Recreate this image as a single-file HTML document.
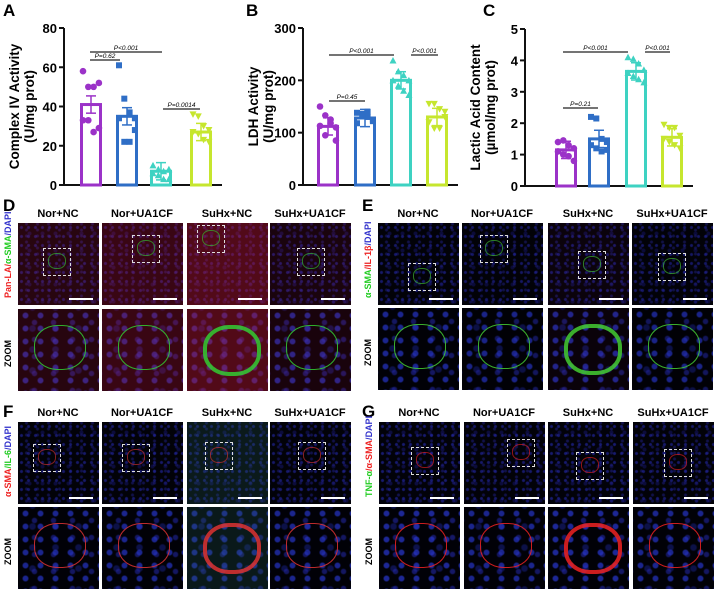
<!DOCTYPE html>
<html><head><meta charset="utf-8">
<style>
body{margin:0;background:#fff;width:720px;height:598px;position:relative;overflow:hidden;font-family:"Liberation Sans",sans-serif}
.lbl{position:absolute;font-weight:bold;font-size:17px}
.cap{position:absolute;font-size:11px;font-weight:bold;text-align:center;width:90px}
.img{position:absolute;width:81px;height:82px;background:
radial-gradient(circle,rgba(40,45,190,.6) 1px,transparent 2px) 0 0/7px 9px,
radial-gradient(circle,rgba(40,40,170,.45) 1px,transparent 2px) 3px 4px/11px 6px,
radial-gradient(circle,rgba(30,30,150,.4) 1.5px,transparent 2.5px) 5px 2px/13px 17px,
#03030a;overflow:hidden}
.z{background:
radial-gradient(circle,rgba(40,55,210,.75) 2.2px,transparent 3.6px) 0 0/15px 13px,
radial-gradient(circle,rgba(40,45,190,.55) 2px,transparent 3.4px) 7px 5px/19px 17px,
radial-gradient(circle,rgba(30,40,170,.45) 2.5px,transparent 4px) 3px 9px/23px 21px,
#020208}
.box{position:absolute;width:26px;height:26px;border:1px dashed #ddd}
.sb{position:absolute;right:6px;bottom:5px;width:24px;height:2px;background:#fff}
.vl{position:absolute;font-size:9px;transform:rotate(-90deg);transform-origin:left top;white-space:nowrap;font-weight:bold}
.ring{position:absolute;border-radius:45%}
</style></head><body>
<svg id="charts" width="720" height="200" style="position:absolute;left:0;top:0"></svg>
<div id="panels"></div>
<script>
const groups=["Nor+NC","Nor+UA1CF","SuHx+NC","SuHx+UA1CF"];
const colors=["#9b32c8","#2f6ec6","#3ed2c2","#c6e62e"];
const valsA=[41,35,7,27];
const ptsA=[[58,50,50,52,33,33,27,29],[61,44,37,34,34,22,22,28],[10,8,7,8,6,5,3,3],[36,35,30,28,27,26,23,22]];
const valsB=[112,128,200,130];
const ptsB=[[150,133,118,110,113,95,125,85],[138,136,130,125,118,132,140,122],[238,217,210,200,200,190,180,172],[155,155,145,130,120,108,108,140]];
const valsC=[1.15,1.5,3.65,1.55];
const ptsC=[[1.4,1.45,1.3,1.2,1.1,1.0,0.95,0.8],[2.2,2.15,1.5,1.4,1.3,1.2,1.1,1.15],[4.1,4.05,3.9,3.7,3.6,3.5,3.4,3.3],[1.95,1.85,1.85,1.6,1.5,1.4,1.3,1.2]];
const ticksA=[0,20,40,60,80],ticksB=[0,100,200,300],ticksC=[0,1,2,3,4,5];
const NS="http://www.w3.org/2000/svg",svg=document.getElementById('charts');
function el(t,a,p){const e=document.createElementNS(NS,t);for(const k in a)e.setAttribute(k,a[k]);(p||svg).appendChild(e);return e;}
function chart(name,ax,yTop,yBot,max,ticks,bars,vals,pts,title1,title2,letter,lx,brackets){
  const g=el('g',{});
  
  
  const y=v=>yBot-(v/max)*(yBot-yTop);
  el('line',{x1:ax,y1:yTop,x2:ax,y2:yBot,stroke:'#111','stroke-width':2},g);
  el('line',{x1:ax,y1:yBot,x2:bars[3]+32,y2:yBot,stroke:'#111','stroke-width':2},g);
  ticks.forEach(t=>{el('line',{x1:ax-5,x2:ax,y1:y(t),y2:y(t),stroke:'#111','stroke-width':2},g);
    const tx=el('text',{x:ax-7,y:y(t)+5,'text-anchor':'end','font-size':13,'font-weight':'bold'},g);tx.textContent=t;});
  const L=el('text',{x:lx,y:16,'font-size':17,'font-weight':'bold'},g);L.textContent=letter;
  const cy=(yTop+yBot)/2;
  const t1=el('text',{x:0,y:0,'font-size':13.5,'font-weight':'bold','text-anchor':'middle',transform:`translate(${ax-45},${cy}) rotate(-90)`},g);t1.textContent=title1;
  const t2=el('text',{x:0,y:0,'font-size':13.5,'font-weight':'bold','text-anchor':'middle',transform:`translate(${ax-30},${cy}) rotate(-90)`},g);t2.textContent=title2;
  vals.forEach((v,i)=>{const x=bars[i],w=22,c=colors[i];
    const b=el('rect',{x:x+1.5,y:y(v),width:w-3,height:yBot-y(v),fill:'none',stroke:c,'stroke-width':3},g);
    
    
    const e=(max*0.055);
    el('line',{x1:x+w/2,x2:x+w/2,y1:y(v+e),y2:y(v-e),stroke:c,'stroke-width':1.5},g);
    el('line',{x1:x+w/2-5,x2:x+w/2+5,y1:y(v+e),y2:y(v+e),stroke:c,'stroke-width':1.5},g);
    el('line',{x1:x+w/2-5,x2:x+w/2+5,y1:y(v-e),y2:y(v-e),stroke:c,'stroke-width':1.5},g);
    pts[i].forEach((p,j)=>{const px=x+3+(j%4)*5.3,py=y(p);
      if(i==0)el('circle',{cx:px,cy:py,r:3.3,fill:c},g);
      else if(i==1)el('rect',{x:px-3,y:py-3,width:6,height:6,fill:c},g);
      else if(i==2)el('polygon',{points:`${px},${py-3.5} ${px-3.5},${py+3} ${px+3.5},${py+3}`,fill:c},g);
      else el('polygon',{points:`${px},${py+3.5} ${px-3.5},${py-3} ${px+3.5},${py-3}`,fill:c},g);});
  });
  brackets.forEach(b=>{el('line',{x1:b[0],x2:b[1],y1:b[2],y2:b[2],stroke:'#222','stroke-width':1.3},g);
    const t=el('text',{x:(b[0]+b[1])/2,y:b[2]-2,'text-anchor':'middle','font-size':6.5,'font-style':'italic'},g);t.textContent=b[3];});
}
chart('chart-a-complex-iv',64,28,185,80,ticksA,[80,116,150,190],valsA,ptsA,'Complex IV Activity','(U/mg prot)','A',3,[[90,162,52,'P<0.001'],[90,120,60,'P=0.62'],[163,200,109,'P=0.0014']]);
chart('chart-b-ldh',303,28,185,300,ticksB,[317,354,390,426],valsB,ptsB,'LDH Activity','(U/mg prot)','B',246,[[329,394,55,'P<0.001'],[411,438,55,'P<0.001'],[329,365,101,'P=0.45']]);
chart('chart-c-lactic',525,29,186,5,ticksC,[555,588,625,661],valsC,ptsC,'Lactic Acid Content','(µmol/mg prot)','C',483,[[563,628,52,'P<0.001'],[645,670,52,'P<0.001'],[563,598,108,'P=0.21']]);

const P=document.getElementById('panels');
const panels=[
 {k:'D',lx:3,ly:196,xs:[18,102,187,270],ys:[223,309],tint:['rgba(150,15,35,.25)','rgba(160,15,40,.35)','rgba(180,20,45,.45)','rgba(120,10,30,.2)'],ring:'#3c3',lab:['Pan-LA/','α-SMA','/DAPI'],lc:['#e22','#2c2','#33c'],boxes:[[25,25],[30,12],[10,2],[27,25]]},
 {k:'E',lx:362,ly:196,xs:[378,462,548,632],ys:[223,308],tint:['rgba(0,0,0,.1)','rgba(0,0,0,.15)','rgba(60,10,30,.15)','rgba(0,0,0,.15)'],ring:'#4c3',lab:['α-SMA','/IL-1β','/DAPI'],lc:['#2c2','#e22','#33c'],boxes:[[30,40],[18,12],[30,28],[26,30]]},
 {k:'F',lx:3,ly:402,xs:[18,102,187,270],ys:[422,507],tint:['rgba(0,0,0,.1)','rgba(0,0,0,.1)','rgba(30,80,70,.3)','rgba(0,0,0,.1)'],ring:'#d33',lab:['α-SMA','/IL-6','/DAPI'],lc:['#e22','#2c2','#33c'],boxes:[[15,22],[20,22],[18,20],[28,20]]},
 {k:'G',lx:362,ly:402,xs:[379,464,548,633],ys:[422,507],tint:['rgba(0,0,0,.05)','rgba(0,0,0,.1)','rgba(0,0,0,.05)','rgba(0,0,0,.1)'],ring:'#e22',lab:['TNF-α','/α-SMA','/DAPI'],lc:['#2c2','#e22','#33c'],boxes:[[32,25],[43,17],[28,30],[31,27]]}];
panels.forEach(p=>{
  const L=document.createElement('div');L.className='lbl';L.style.left=p.lx+'px';L.style.top=p.ly+'px';L.textContent=p.k;
  
  P.appendChild(L);
  const v=document.createElement('div');v.className='vl';v.style.left=(p.xs[0]-15)+'px';v.style.top=(p.ys[0]+75)+'px';
  v.innerHTML=p.lab.map((t,i)=>`<span style="color:${p.lc[i]}">${t}</span>`).join('');
  
  P.appendChild(v);
  const z=document.createElement('div');z.className='vl';z.style.left=(p.xs[0]-15)+'px';z.style.top=(p.ys[1]+58)+'px';z.textContent='ZOOM';
  
  P.appendChild(z);
  p.xs.forEach((x,i)=>{
    const c=document.createElement('div');c.className='cap';c.style.left=(x-5)+'px';c.style.top=(p.ys[0]-15)+'px';c.textContent=groups[i];
    
    P.appendChild(c);
    p.ys.forEach((y,r)=>{
      const d=document.createElement('div');d.className='img'+(r?' z':'');d.style.left=x+'px';d.style.top=y+'px';
      
      
      const t=document.createElement('div');t.style.cssText=`position:absolute;inset:0;background:${p.tint[i]}`;d.appendChild(t);
      const ring=document.createElement('div');ring.className='ring';
      const s=r?50:16;ring.style.cssText+=`width:${s}px;height:${s*0.85}px;left:${r?16:p.boxes[i][0]+5}px;top:${r?16:p.boxes[i][1]+5}px;border:${r?(i==2?4:1.5):1}px solid ${p.ring};opacity:${r?0.85:0.6}`;
      d.appendChild(ring);
      if(!r){const b=document.createElement('div');b.className='box';b.style.left=p.boxes[i][0]+'px';b.style.top=p.boxes[i][1]+'px';d.appendChild(b);
        const sb=document.createElement('div');sb.className='sb';d.appendChild(sb);}
      P.appendChild(d);
    });
  });
});
</script>
</body></html>
